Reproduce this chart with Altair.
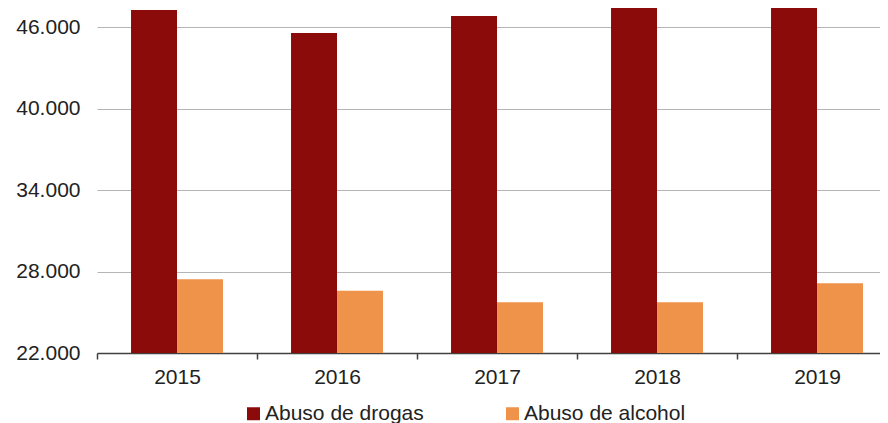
import altair as alt
import pandas as pd

years = ["2015", "2016", "2017", "2018", "2019"]
drogas = [47260, 45570, 46820, 47930, 48400]
alcohol = [27430, 26590, 25730, 25730, 27130]
series = ["Abuso de drogas", "Abuso de alcohol"]
colors = ["#8B0B0B", "#EE9349"]

rows = []
for i, y in enumerate(years):
    rows.append({"year": y, "serie": series[0], "value": drogas[i]})
    rows.append({"year": y, "serie": series[1], "value": alcohol[i]})
df = pd.DataFrame(rows)

FONT = "Liberation Sans"

chart = alt.Chart(df).mark_bar(clip=True).encode(
    x=alt.X("year:N", sort=years, title=None,
            scale=alt.Scale(paddingInner=0, paddingOuter=0),
            axis=alt.Axis(labelAngle=0, labelFont=FONT, labelFontSize=21,
                          labelColor="#222222", labelPadding=7,
                          tickBand="extent", tickSize=6, tickColor="#404040",
                          tickWidth=1.5, domainColor="#404040", domainWidth=1.5,
                          grid=False)),
    xOffset=alt.XOffset("serie:N", sort=series,
                        scale=alt.Scale(paddingInner=0, paddingOuter=0.74)),
    y=alt.Y("value:Q", title=None,
            scale=alt.Scale(domain=[22000, 48000], nice=False, zero=False),
            axis=alt.Axis(values=[22000, 28000, 34000, 40000, 46000],
                          labelExpr="replace(format(datum.value, ',.0f'), ',', '.')",
                          labelFont=FONT, labelFontSize=21, labelColor="#222222",
                          labelPadding=17, ticks=False, domain=False,
                          gridColor="#b5b5b5", gridWidth=1)),
    color=alt.Color("serie:N", sort=series,
                    scale=alt.Scale(domain=series, range=colors),
                    legend=alt.Legend(title=None, orient="none", direction="horizontal",
                                      legendX=146, legendY=403,
                                      symbolType="square", symbolSize=169,
                                      symbolStrokeWidth=0, labelOffset=1,
                                      columnPadding=78, padding=0, labelLimit=400,
                                      labelFont=FONT, labelFontSize=21,
                                      labelColor="#222222")),
).properties(
    width=800, height=353,
    autosize=alt.AutoSizeParams(type="none"),
    padding={"left": 89, "top": -8, "right": -17, "bottom": 70},
).configure_view(stroke=None)

chart.save("out.html", embed_options={"renderer": "svg", "actions": False})
